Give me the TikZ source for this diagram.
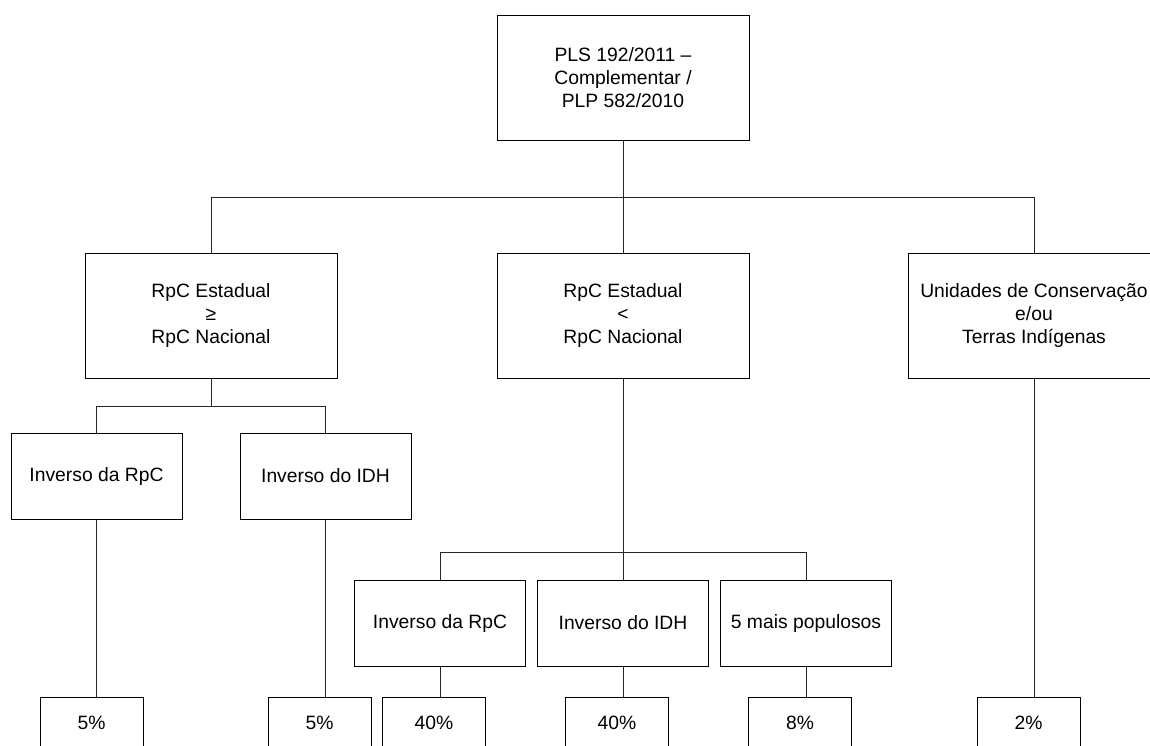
\documentclass[tikz,border=0pt]{standalone}
\usepackage{fontspec}
\setmainfont{Liberation Sans}
\usetikzlibrary{positioning}
\tikzset{
  bigbox/.style={draw, minimum width=252pt, minimum height=125pt, align=center, inner sep=0pt},
  midbox/.style={draw, minimum width=171pt, minimum height=86pt, align=center, inner sep=0pt},
  pctbox/.style={draw, minimum width=103pt, minimum height=52pt, align=center, inner sep=0pt},
  link/.style={draw, black!85}
}
\begin{document}
\begin{tikzpicture}[x=1pt,y=-1pt,line width=1pt,font=\fontsize{19.3}{23.3}\selectfont]
\useasboundingbox (0,0) rectangle (1150,745);
\clip (0,0) rectangle (1150,745);

% to draw the top entity
\node [bigbox] (pls) at (623,77.5) {PLS 192/2011 --\\Complementar /\\PLP 582/2010};

% to write the three criteria
\node [bigbox] (estA) at (211,315.5) {RpC Estadual\\≥\\RpC Nacional};
\node [bigbox] (estB) at (623,315.5) {RpC Estadual\\<\\RpC Nacional};
\node [bigbox] (uc) at (1034,315.5) {Unidades de Conservação\\e/ou\\Terras Indígenas};

% left branch
\node [midbox] (invRpcA) at (96.5,476) {Inverso da RpC};
\node [midbox] (invIdhA) at (325.5,476) {Inverso do IDH};

% middle branch
\node [midbox] (invRpcB) at (440,623) {Inverso da RpC};
\node [midbox] (invIdhB) at (623,623) {Inverso do IDH};
\node [midbox] (pop) at (806,623) {5 mais populosos};

% to write the shares
\node [pctbox] (pA) at (91.5,723) {5\%};
\node [pctbox] (pB) at (319.5,723) {5\%};
\node [pctbox] (pC) at (434,723) {40\%};
\node [pctbox] (pD) at (617,723) {40\%};
\node [pctbox] (pE) at (800,723) {8\%};
\node [pctbox] (pF) at (1028.5,723) {2\%};

% to draw the forks
\coordinate (busTop) at (623,197);
\coordinate (busA) at (211,406);
\coordinate (busB) at (623,552);

\draw [link] (pls.south) -- (busTop);
\draw [link] (busTop) -| (estA.north);
\draw [link] (busTop) -- (estB.north);
\draw [link] (busTop) -| (uc.north);

\draw [link] (estA.south) -- (busA);
\draw [link] (busA) -| (invRpcA.north);
\draw [link] (busA) -| (invIdhA.north);

\draw [link] (estB.south) -- (busB);
\draw [link] (busB) -| (invRpcB.north);
\draw [link] (busB) -- (invIdhB.north);
\draw [link] (busB) -| (pop.north);

% to draw lines down to the shares
\draw [link] (invRpcA.south) -- (invRpcA.south |- pA.north);
\draw [link] (invIdhA.south) -- (invIdhA.south |- pB.north);
\draw [link] (invRpcB.south) -- (invRpcB.south |- pC.north);
\draw [link] (invIdhB.south) -- (invIdhB.south |- pD.north);
\draw [link] (pop.south) -- (pop.south |- pE.north);
\draw [link] (uc.south) -- (uc.south |- pF.north);
\end{tikzpicture}
\end{document}
